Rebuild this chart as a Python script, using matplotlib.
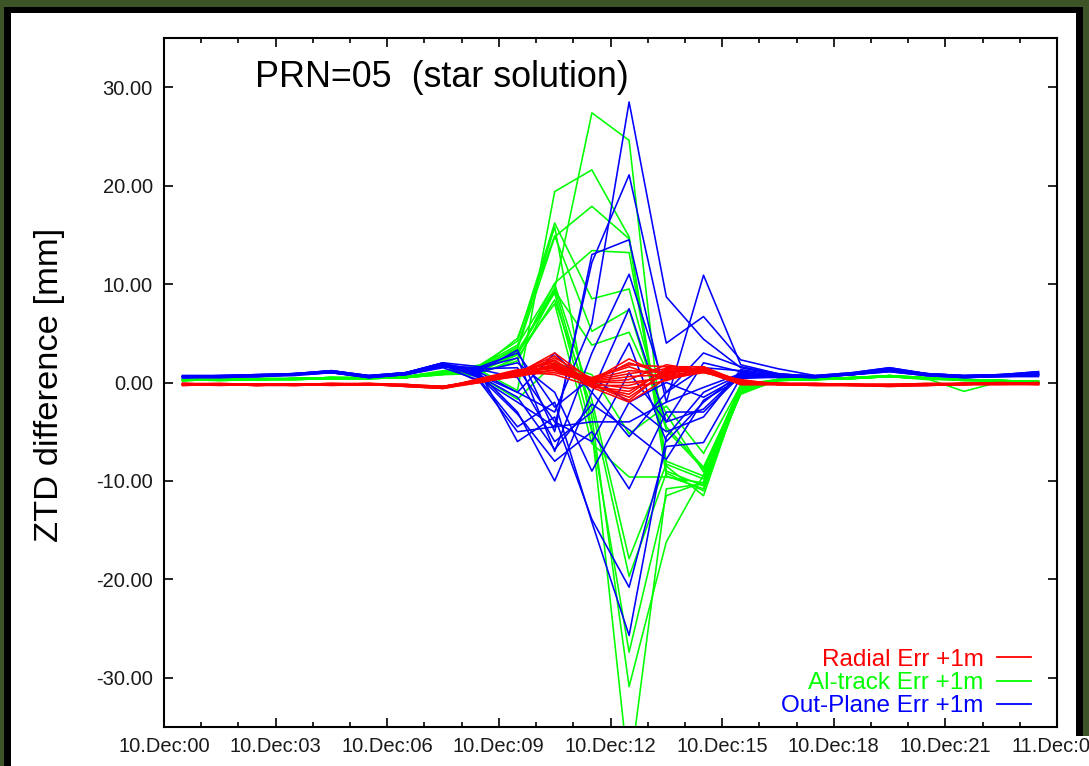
import matplotlib
matplotlib.use("Agg")
import matplotlib.pyplot as plt
from matplotlib.patches import Rectangle
from matplotlib.lines import Line2D
from matplotlib.ticker import MultipleLocator

# hourly epochs (hours since 10.Dec 00:00)
hours = [0.5, 1.5, 2.5, 3.5, 4.5, 5.5, 6.5, 7.5, 8.5, 9.5, 10.5, 11.5,
         12.5, 13.5, 14.5, 15.5, 16.5, 17.5, 18.5, 19.5, 20.5, 21.5, 22.5, 23.5]

# ZTD differences [mm], one row per station
radial_err = [
    [-0.2, -0.2, -0.2, -0.2, -0.2, -0.2, -0.3, -0.5, 0.2, 0.9, 3.0, 0.2, 2.4, 0.6, 1.3, 0.1, -0.1, -0.2, -0.2, -0.3, -0.2, -0.1, -0.1, -0.1],
    [-0.1, -0.2, -0.2, -0.2, -0.1, -0.2, -0.3, -0.4, 0.3, 1.0, 2.7, -0.2, -1.8, 1.2, 1.5, 0.0, -0.1, -0.1, -0.2, -0.3, -0.2, -0.1, -0.1, -0.1],
    [-0.2, -0.2, -0.3, -0.2, -0.2, -0.2, -0.3, -0.6, 0.1, 0.8, 2.5, 0.4, 1.6, 0.3, 1.1, -0.2, -0.2, -0.2, -0.3, -0.3, -0.2, -0.2, -0.1, -0.2],
    [-0.2, -0.1, -0.2, -0.2, -0.2, -0.1, -0.2, -0.5, 0.4, 1.1, 2.3, -0.4, -1.2, 1.5, 1.4, 0.2, -0.1, -0.2, -0.2, -0.2, -0.2, -0.1, -0.1, -0.1],
    [-0.2, -0.2, -0.2, -0.3, -0.2, -0.2, -0.3, -0.4, 0.2, 0.9, 2.2, 0.1, 2.0, 0.9, 1.6, 0.1, -0.2, -0.2, -0.2, -0.3, -0.2, -0.2, -0.1, -0.1],
    [-0.1, -0.2, -0.2, -0.2, -0.2, -0.2, -0.3, -0.5, 0.3, 1.2, 2.0, 0.0, 0.3, 1.8, 1.2, -0.1, -0.1, -0.2, -0.2, -0.3, -0.2, -0.1, -0.1, -0.1],
    [-0.3, -0.2, -0.3, -0.3, -0.2, -0.2, -0.4, -0.6, 0.0, 0.7, 1.9, -0.5, -2.0, 0.4, 1.0, 0.3, -0.2, -0.3, -0.3, -0.4, -0.3, -0.2, -0.2, -0.2],
    [-0.2, -0.2, -0.2, -0.2, -0.1, -0.2, -0.2, -0.4, 0.2, 1.0, 1.8, 0.3, 1.2, 1.0, 1.5, 0.0, -0.1, -0.2, -0.2, -0.2, -0.1, -0.1, -0.1, 0.0],
    [-0.2, -0.3, -0.2, -0.2, -0.2, -0.2, -0.3, -0.5, 0.1, 0.8, 1.7, -0.1, -0.6, 0.2, 1.3, -0.2, -0.2, -0.2, -0.3, -0.3, -0.2, -0.2, -0.2, -0.1],
    [-0.1, -0.2, -0.2, -0.2, -0.2, -0.1, -0.3, -0.5, 0.3, 1.1, 1.6, 0.2, 0.9, 1.4, 1.4, 0.1, -0.1, -0.1, -0.2, -0.2, -0.2, -0.1, -0.1, -0.1],
    [-0.2, -0.2, -0.2, -0.3, -0.2, -0.2, -0.3, -0.4, 0.2, 0.9, 1.5, -0.3, -0.3, 0.7, 1.2, 0.2, -0.2, -0.2, -0.2, -0.3, -0.2, -0.2, -0.1, -0.1],
    [-0.2, -0.2, -0.3, -0.2, -0.2, -0.2, -0.4, -0.6, 0.4, 1.3, 1.4, 0.5, 1.8, 1.6, 1.6, -0.1, -0.2, -0.2, -0.3, -0.3, -0.3, -0.2, -0.1, -0.2],
    [-0.2, -0.2, -0.2, -0.2, -0.2, -0.2, -0.3, -0.5, 0.1, 0.6, 1.3, 0.0, 0.0, 0.5, 1.1, 0.0, -0.1, -0.2, -0.2, -0.3, -0.2, -0.1, -0.1, -0.1],
    [-0.1, -0.1, -0.2, -0.2, -0.1, -0.1, -0.2, -0.4, 0.2, 1.0, 1.2, -0.2, -1.5, 1.1, 1.3, 0.1, -0.1, -0.1, -0.2, -0.2, -0.1, -0.1, 0.0, -0.1],
    [-0.2, -0.2, -0.2, -0.2, -0.2, -0.2, -0.3, -0.5, 0.0, 0.8, 1.0, 0.1, 0.6, 0.8, 1.5, -0.2, -0.2, -0.2, -0.2, -0.3, -0.2, -0.2, -0.1, -0.1],
    [-0.3, -0.2, -0.3, -0.2, -0.3, -0.2, -0.4, -0.6, 0.3, 1.1, 0.8, -0.4, -0.9, 1.3, 1.0, 0.2, -0.2, -0.3, -0.3, -0.4, -0.3, -0.2, -0.2, -0.2],
]

altrack_err = [
    [0.3, 0.3, 0.3, 0.4, 0.5, 0.4, 0.5, 0.9, 1.5, 3.0, 9.5, 27.4, 24.6, -9.0, -10.5, -1.0, 0.3, 0.4, 0.5, 0.7, 0.4, 0.3, 0.2, 0.1],
    [0.2, 0.3, 0.3, 0.3, 0.4, 0.4, 0.6, 1.0, 1.2, -0.8, 19.4, 21.6, 14.8, -8.5, -11.5, -0.5, 0.3, 0.3, 0.4, 0.6, 0.4, 0.3, 0.2, 0.1],
    [0.3, 0.3, 0.4, 0.4, 0.5, 0.5, 0.6, 1.1, 1.6, 3.4, 14.8, 17.9, 14.6, -9.5, -10.8, -0.8, 0.2, 0.4, 0.5, 0.7, 0.5, 0.3, 0.2, 0.0],
    [0.3, 0.2, 0.3, 0.4, 0.4, 0.4, 0.5, 0.8, 1.3, 2.8, 10.1, 13.4, 13.2, -8.0, -9.5, -0.3, 0.3, 0.4, 0.4, 0.6, 0.4, 0.3, 0.2, 0.1],
    [0.2, 0.3, 0.3, 0.4, 0.5, 0.4, 0.5, 1.0, 1.8, 4.2, 16.2, 8.5, 9.5, -4.5, -8.6, -0.6, 0.3, 0.3, 0.5, 0.7, 0.4, 0.2, 0.1, 0.1],
    [0.3, 0.3, 0.3, 0.3, 0.4, 0.4, 0.6, 1.2, 1.5, 3.6, 15.8, -4.8, -40.0, -10.8, -10.3, -0.5, 0.2, 0.3, 0.4, 0.6, 0.3, 0.3, 0.2, 0.0],
    [0.2, 0.3, 0.3, 0.4, 0.5, 0.5, 0.5, 0.9, 1.1, 2.9, 9.6, -3.5, -30.9, -16.2, -9.4, -1.2, 0.3, 0.4, 0.5, 0.6, 0.4, -0.9, 0.1, 0.0],
    [0.3, 0.3, 0.4, 0.4, 0.5, 0.4, 0.6, 1.0, 1.4, 3.2, 9.1, -5.0, -27.4, -11.5, -10.1, -0.9, 0.2, 0.3, 0.4, 0.7, 0.5, 0.3, 0.2, 0.1],
    [0.3, 0.2, 0.3, 0.3, 0.4, 0.4, 0.5, 0.8, 0.9, 2.5, 8.4, -2.6, -19.7, -9.2, -11.0, -0.4, 0.3, 0.4, 0.5, 0.6, 0.4, 0.3, 0.2, 0.1],
    [0.2, 0.3, 0.3, 0.4, 0.5, 0.5, 0.6, 1.1, 1.7, 3.8, 10.0, -1.8, -17.9, -8.3, -9.8, -0.7, 0.3, 0.3, 0.4, 0.7, 0.4, 0.3, 0.2, 0.0],
    [0.3, 0.3, 0.3, 0.4, 0.4, 0.4, 0.5, 0.9, 1.2, 3.0, 8.0, -6.2, -9.6, -9.6, -10.2, -1.1, 0.2, 0.4, 0.5, 0.6, 0.4, 0.3, 0.1, 0.1],
    [0.3, 0.3, 0.4, 0.4, 0.5, 0.5, 0.6, 1.0, 1.5, 4.5, 14.9, 5.2, 7.4, -4.8, -8.8, -0.4, 0.3, 0.3, 0.5, 0.7, 0.5, 0.3, 0.2, 0.1],
    [0.2, 0.3, 0.3, 0.3, 0.4, 0.4, 0.5, 0.9, 1.0, 2.2, 9.3, 3.8, 5.1, -3.2, -9.1, -0.2, 0.3, 0.4, 0.4, 0.6, 0.4, 0.3, 0.2, 0.0],
    [0.3, 0.3, 0.3, 0.4, 0.5, 0.4, 0.6, 1.1, 0.6, -1.7, 2.0, 0.8, -5.2, -2.4, -7.2, -0.3, 0.2, 0.3, 0.5, 0.6, 0.4, 0.2, 0.1, 0.1],
]

outplane_err = [
    [0.6, 0.6, 0.7, 0.8, 1.1, 0.6, 0.9, 1.8, 1.0, -1.0, -3.0, 6.0, 28.5, 8.7, 4.4, 1.5, 0.8, 0.6, 0.9, 1.3, 0.8, 0.6, 0.7, 0.8],
    [0.5, 0.6, 0.7, 0.9, 1.0, 0.6, 1.0, 2.0, 0.4, -2.0, -4.5, 12.2, 21.1, 4.0, 6.7, 2.3, 1.4, 0.7, 1.0, 1.5, 0.9, 0.7, 0.8, 1.0],
    [0.6, 0.7, 0.8, 0.9, 1.2, 0.7, 1.0, 1.9, 1.2, 3.3, -5.0, 13.0, 14.5, -2.0, 10.9, 1.8, 0.9, 0.6, 0.8, 1.2, 0.8, 0.6, 0.7, 0.9],
    [0.5, 0.5, 0.6, 0.8, 1.0, 0.5, 0.8, 1.6, 1.5, 2.5, -7.0, 3.0, 11.0, -1.0, 1.5, 1.2, 0.6, 0.5, 0.8, 1.2, 0.7, 0.5, 0.6, 0.7],
    [0.6, 0.6, 0.7, 0.8, 1.1, 0.6, 0.9, 1.7, 0.8, -3.0, -10.0, -1.0, 7.5, -4.0, -2.7, 0.9, 0.7, 0.6, 0.9, 1.3, 0.8, 0.6, 0.7, 0.8],
    [0.5, 0.6, 0.6, 0.7, 1.0, 0.5, 0.8, 1.5, 0.2, -4.5, -2.0, -14.2, -25.7, -5.5, -1.0, 0.8, 0.6, 0.5, 0.8, 1.1, 0.7, 0.5, 0.6, 0.6],
    [0.7, 0.7, 0.8, 0.9, 1.2, 0.7, 1.0, 2.0, 0.9, -6.0, -3.5, -13.9, -20.8, -6.5, -6.1, 0.5, 0.5, 0.6, 0.9, 1.4, 0.9, 0.7, 0.8, 1.1],
    [0.6, 0.6, 0.7, 0.8, 1.1, 0.6, 0.9, 1.8, 0.5, -3.2, -8.0, -5.0, -10.8, -3.0, -3.0, 0.7, 0.7, 0.6, 0.8, 1.2, 0.8, 0.6, 0.7, 0.8],
    [0.5, 0.6, 0.7, 0.8, 1.0, 0.6, 0.9, 1.7, 1.3, 0.5, -6.0, -3.0, 4.0, -6.0, -2.0, 1.0, 0.8, 0.7, 0.9, 1.3, 0.8, 0.6, 0.7, 0.9],
    [0.6, 0.6, 0.7, 0.9, 1.1, 0.6, 1.0, 1.9, 0.7, -1.0, 3.0, -1.0, -5.5, -1.0, 3.0, 1.6, 0.9, 0.6, 0.9, 1.4, 0.9, 0.7, 0.8, 1.0],
    [0.6, 0.7, 0.7, 0.8, 1.1, 0.7, 0.9, 1.8, 1.4, 1.5, -4.0, -6.0, 1.0, -4.0, 2.0, 1.1, 0.7, 0.6, 0.8, 1.2, 0.8, 0.6, 0.7, 0.8],
    [0.5, 0.5, 0.6, 0.8, 1.0, 0.5, 0.8, 1.6, 1.1, 2.0, -1.0, -9.0, -2.0, 0.0, -1.5, 0.6, 0.6, 0.5, 0.8, 1.1, 0.7, 0.5, 0.6, 0.7],
    [0.6, 0.6, 0.7, 0.8, 1.2, 0.6, 0.9, 1.8, 0.0, -5.0, -4.5, -4.0, -4.0, -2.0, -0.5, 0.9, 0.7, 0.6, 0.9, 1.3, 0.8, 0.6, 0.7, 0.9],
    [0.7, 0.7, 0.8, 0.9, 1.2, 0.7, 1.0, 2.0, 1.6, 3.0, -2.5, 0.5, -2.0, -5.0, -3.5, 1.3, 0.8, 0.7, 1.0, 1.5, 0.9, 0.7, 0.8, 1.1],
    [0.6, 0.6, 0.7, 0.8, 1.1, 0.6, 0.9, 1.7, 0.6, -1.5, -6.8, -2.2, -4.8, -7.8, -1.8, 0.4, 0.6, 0.6, 0.9, 1.2, 0.8, 0.6, 0.7, 0.8],
]

xtick_hours = [0, 3, 6, 9, 12, 15, 18, 21, 24]
xtick_labels = ["10.Dec:00", "10.Dec:03", "10.Dec:06", "10.Dec:09", "10.Dec:12",
                "10.Dec:15", "10.Dec:18", "10.Dec:21", "11.Dec:00"]
ytick_values = [-30, -20, -10, 0, 10, 20, 30]

series_labels = ["Radial Err +1m", "Al-track Err +1m", "Out-Plane Err +1m"]
series_colors = ["#ff0000", "#00ff00", "#0000ff"]

plt.rcParams['font.family'] = ['Liberation Sans', 'DejaVu Sans']

W, H = 1089, 766
fig = plt.figure(figsize=(W / 100, H / 100), dpi=100, facecolor='#3c5427')


def px_box(x0, y0, x1, y1, color):
    # box given in pixels measured from the top-left corner
    fig.add_artist(Rectangle((x0 / W, 1 - y1 / H), (x1 - x0) / W, (y1 - y0) / H,
                             transform=fig.transFigure, facecolor=color,
                             edgecolor='none', zorder=-10))


# window frame around the picture; the bottom strip runs past the frame
px_box(4, 7, 1083, H + 5, 'black')
px_box(11, 13, 1076, H + 5, 'white')
px_box(11, 736, W + 5, H + 5, 'white')

ax = fig.add_axes([164 / W, 1 - 727 / H, (1057 - 164) / W, (727 - 38) / H])

for row in altrack_err:
    ax.plot(hours, row, color=series_colors[1], lw=1.15)
for row in outplane_err:
    ax.plot(hours, row, color=series_colors[2], lw=1.15)
for row in radial_err:
    ax.plot(hours, row, color=series_colors[0], lw=1.15)

ax.set_xlim(0, 24)
ax.set_ylim(-35, 35)
ax.set_xticks(xtick_hours, labels=xtick_labels)
ax.xaxis.set_minor_locator(MultipleLocator(1))
ax.set_yticks(ytick_values, labels=[f"{v:.2f}" for v in ytick_values])

ax.tick_params(axis='both', which='both', direction='in', top=True, right=True,
               colors='black', labelcolor='#1a1a1a', labelsize=14.5, width=1.2)
ax.tick_params(axis='both', which='major', length=6.5)
ax.tick_params(axis='x', which='minor', length=3.5)
ax.tick_params(axis='x', pad=7)
ax.tick_params(axis='y', pad=8)
for sp in ax.spines.values():
    sp.set_linewidth(1.5)

ax.text(0.102, 0.929, "PRN=05  (star solution)", transform=ax.transAxes,
        fontsize=25.8, va='baseline', ha='left', color='black')
fig.text(50 / W, 1 - 385 / H, "ZTD difference [mm]", rotation=90,
         fontsize=24.8, ha='center', va='center', color='black')

handles = [Line2D([], [], color=c, lw=1.3) for c in series_colors]
ax.legend(handles, series_labels, loc='lower right',
          bbox_to_anchor=((1031 - 164) / 893, 0.014), markerfirst=False,
          frameon=False, labelcolor='linecolor', fontsize=17.5,
          handlelength=1.4, handletextpad=0.55, labelspacing=0.05,
          borderpad=0, borderaxespad=0)

fig.savefig("out.png", dpi=100, facecolor=fig.get_facecolor())
